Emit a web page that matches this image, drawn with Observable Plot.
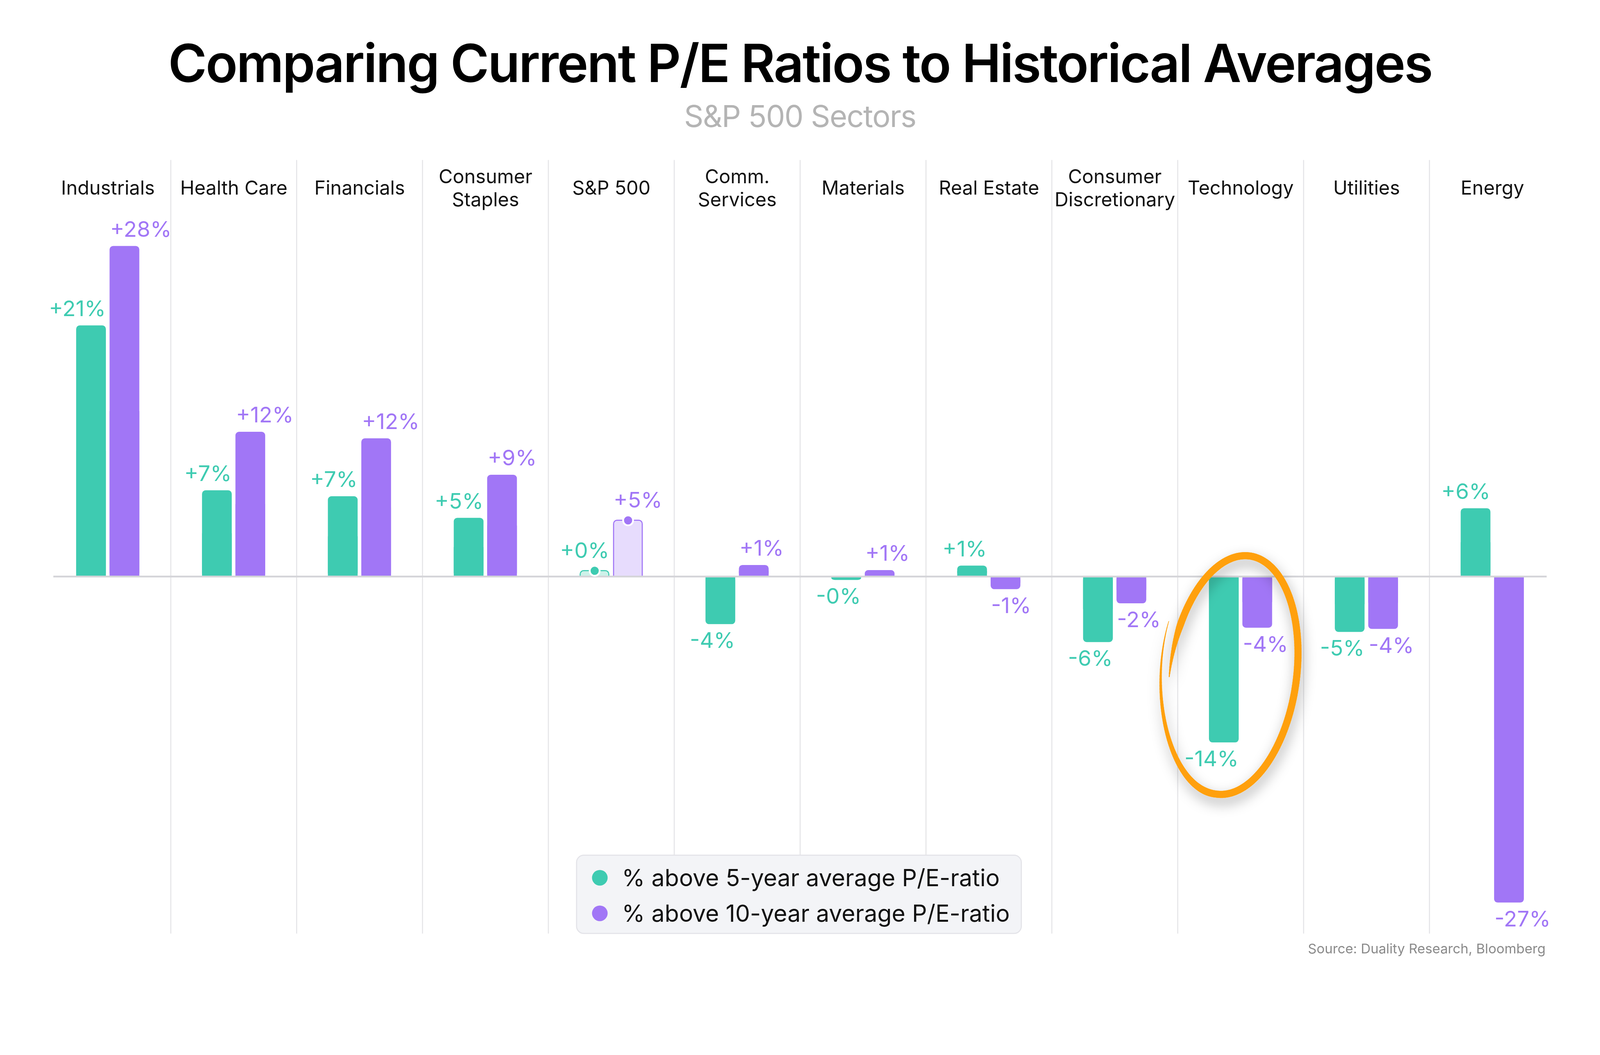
<!DOCTYPE html>
<html><head><meta charset="utf-8">
<script src="https://cdn.jsdelivr.net/npm/d3@7"></script>
<script src="https://cdn.jsdelivr.net/npm/@observablehq/plot@0.6"></script>
<style>
html,body{margin:0;padding:0;background:#fff;overflow:hidden;}
#stage{position:relative;width:100vw;height:100vh;overflow:hidden;}
#wrap{position:absolute;left:0;top:0;width:4500px;height:2700px;overflow:hidden;font-family:Inter,"Noto Sans",sans-serif;transform-origin:0 0;background:#fff;}
#title{position:absolute;left:0;width:4500px;top:104px;text-align:center;font-size:148px;line-height:148px;font-weight:600;letter-spacing:-0.025em;color:#000;white-space:nowrap;}
#subtitle{position:absolute;left:0;width:4500px;top:284px;text-align:center;font-size:85px;line-height:85px;color:#b4b4b4;letter-spacing:-0.02em;}
#chart{position:absolute;left:0;top:400px;}
#legend{position:absolute;left:1620px;top:2403px;width:1254px;height:223px;box-sizing:border-box;background:#f3f4f7;border:3px solid #e3e3e8;border-radius:22px;}
.item{position:absolute;left:0;height:80px;display:flex;align-items:center;font-size:66px;color:#111;white-space:nowrap;}
.sw{width:44px;height:44px;border-radius:50%;margin-left:42px;margin-right:40px;flex:none;}
#source{position:absolute;right:153px;top:2645px;font-size:38px;line-height:44px;color:#8a8a8a;}
</style></head>
<body>
<div id="stage">
<div id="wrap">
  <div id="title"></div>
  <div id="subtitle"></div>
  <div id="chart"></div>
  <div id="legend"></div>
  <div id="source"></div>
</div>
</div>
<script>
// ---- data ----
const titleText = "Comparing Current P/E Ratios to Historical Averages";
const subtitleText = "S&P 500 Sectors";
const sourceText = "Source: Duality Research, Bloomberg";
const sectors = ["Industrials","Health Care","Financials","Consumer Staples","S&P 500","Comm. Services","Materials","Real Estate","Consumer Discretionary","Technology","Utilities","Energy"];
const sectorLabels = ["Industrials","Health Care","Financials","Consumer\nStaples","S&P 500","Comm.\nServices","Materials","Real Estate","Consumer\nDiscretionary","Technology","Utilities","Energy"];
const above5y  = [21.0, 7.2, 6.7, 4.9, 0.48, -4.0, -0.3, 0.9, -5.5, -13.9, -4.65, 5.7];
const above10y = [27.65, 12.1, 11.55, 8.5, 4.7, 0.95, 0.52, -1.07, -2.26, -4.3, -4.4, -27.3];
const seriesNames = ["% above 5-year average P/E-ratio","% above 10-year average P/E-ratio"];
const benchmark = "S&P 500";
const highlighted = "Technology";

const TEAL = "#3ecbb1", PURPLE = "#a176f6", TEAL_L = "#cdf1e9", PURPLE_L = "#e7dcfd";

// fit the 4500x2700 canvas into the actual viewport
function fit() {
  const s = Math.min(window.innerWidth / 4500, window.innerHeight / 2700);
  document.getElementById("wrap").style.transform = "scale(" + s + ")";
}
fit();
window.addEventListener("resize", fit);

document.getElementById("title").textContent = titleText;
document.getElementById("subtitle").textContent = subtitleText;
document.getElementById("source").textContent = sourceText;
const legend = document.getElementById("legend");
[[seriesNames[0], TEAL, 22], [seriesNames[1], PURPLE, 122]].forEach(([t, c, top]) => {
  const it = document.createElement("div"); it.className = "item"; it.style.top = top + "px";
  const sw = document.createElement("div"); sw.className = "sw"; sw.style.background = c;
  const tx = document.createElement("span"); tx.textContent = t;
  it.appendChild(sw); it.appendChild(tx); legend.appendChild(it);
});

const rows5 = sectors.map((s, i) => ({sector: s, v: above5y[i]}));
const rows10 = sectors.map((s, i) => ({sector: s, v: above10y[i]}));
const isBench = d => d.sector === benchmark;
const fmt = v => (v < 0 ? "-" : "+") + Math.round(Math.abs(v)) + "%";

const W = 4500, H = 2300, ML = 124, MR = 124, MT = 50, MB = 75;
const yDomain = [-29.9, 34.84];
const step = (W - ML - MR) / sectors.length;
const half = step / 2;
const barW = 84, gap = 10;
const tL = half - gap / 2 - barW, tR = half + gap / 2;   // teal insets
const pL = tR, pR = tL;                                   // purple insets
const off = gap / 2 + barW / 2;

function barSet(rows, color, inL, inR) {
  const n = rows.filter(d => !isBench(d));
  return [
    Plot.barY(n, {x: "sector", y: "v", fill: color, insetLeft: inL, insetRight: inR, rx: 10}),
    Plot.barY(n, {x: "sector", y1: 0, y2: d => d.v / 2, fill: color, insetLeft: inL, insetRight: inR})
  ];
}
function benchSet(rows, color, light, inL, inR) {
  const b = rows.filter(isBench);
  return [
    Plot.barY(b, {x: "sector", y1: -0.6, y2: "v", fill: light, stroke: color, strokeWidth: 3, rx: 10, insetLeft: inL + 1.5, insetRight: inR + 1.5}),
    Plot.barY(b, {x: "sector", y1: -0.7, y2: 0, fill: "white", insetLeft: inL - 3, insetRight: inR - 3})
  ];
}
function labelSet(rows, color, anchor, dx) {
  const common = {x: "sector", y: "v", text: d => fmt(d.v), fill: color, textAnchor: anchor, dx, lineAnchor: "middle", fontSize: 61};
  return [
    Plot.text(rows.filter(d => d.v >= 0 && !isBench(d)), {...common, dy: -46}),
    Plot.text(rows.filter(d => d.v >= 0 && isBench(d)), {...common, dy: -55}),
    Plot.text(rows.filter(d => d.v < 0), {...common, dy: 47})
  ];
}

const plot = Plot.plot({
  width: W, height: H, marginLeft: ML, marginRight: MR, marginTop: MT, marginBottom: MB,
  x: {domain: sectors, padding: 0, axis: null},
  y: {domain: yDomain, axis: null},
  style: {fontFamily: "Inter, 'Noto Sans', sans-serif", background: "transparent", overflow: "visible", maxWidth: "none"},
  marks: [
    Plot.ruleX(sectors.slice(1), {x: d => d, dx: -half, stroke: "#e5e5e8", strokeWidth: 3}),
    ...barSet(rows5, TEAL, tL, tR),
    ...barSet(rows10, PURPLE, pL, pR),
    ...benchSet(rows5, TEAL, TEAL_L, tL, tR),
    ...benchSet(rows10, PURPLE, PURPLE_L, pL, pR),
    Plot.ruleY([0], {stroke: "#d4d4d8", strokeWidth: 5, insetLeft: 26, insetRight: 26}),
    Plot.dot(rows5.filter(isBench), {x: "sector", y: "v", dx: -off, r: 14, fill: TEAL, stroke: "white", strokeWidth: 5}),
    Plot.dot(rows10.filter(isBench), {x: "sector", y: "v", dx: off, r: 14, fill: PURPLE, stroke: "white", strokeWidth: 5}),
    ...labelSet(rows5, TEAL, "end", -6),
    ...labelSet(rows10, PURPLE, "start", 6),
    Plot.text(sectors, {x: d => d, text: (d, i) => sectorLabels[i], frameAnchor: "top", dy: 76, lineAnchor: "middle", lineHeight: 1.2, fontSize: 54, fill: "#111"})
  ]
});
document.getElementById("chart").appendChild(plot);

// ---- hand-drawn highlight ellipse around the highlighted sector ----
const yS = d3.scaleLinear(yDomain, [H - MB, MT]);
const idx = sectors.indexOf(highlighted);
const cx = ML + step * (idx + 0.5) - 22, cy = yS(-8.26);
const erx = 178, ery = 338, rot = 8 * Math.PI / 180;
function pt(deg) {
  const t = deg * Math.PI / 180;
  const s = deg > 450 ? 1 + 0.2 * Math.pow((deg - 450) / 110, 1.5) : 1;
  const ex = erx * s * Math.cos(t), ey = ery * (deg > 450 ? 1 + 0.05 * (deg - 450) / 110 : 1) * Math.sin(t);
  return [cx + ex * Math.cos(rot) - ey * Math.sin(rot), cy + ex * Math.sin(rot) + ey * Math.cos(rot)];
}
function wid(deg) {
  if (deg < 200) return 3 + 17 * (deg - 175) / 25;
  if (deg < 460) return 20;
  return Math.max(1.5, 20 - 18.5 * (deg - 460) / 100);
}
const svg = d3.select(plot);
const defs = svg.append("defs");
defs.append("filter").attr("id", "shadow").attr("x", "-50%").attr("y", "-50%").attr("width", "200%").attr("height", "200%")
  .append("feDropShadow").attr("dx", 4).attr("dy", 16).attr("stdDeviation", 18).attr("flood-color", "#000").attr("flood-opacity", 0.32);
const g = svg.append("g").attr("filter", "url(#shadow)");
for (let a = 175; a < 560; a += 1.5) {
  const p1 = pt(a), p2 = pt(a + 1.5);
  g.append("line").attr("x1", p1[0]).attr("y1", p1[1]).attr("x2", p2[0]).attr("y2", p2[1])
    .attr("stroke", "#ffa00e").attr("stroke-width", wid(a)).attr("stroke-linecap", "round");
}
</script>
</body></html>
